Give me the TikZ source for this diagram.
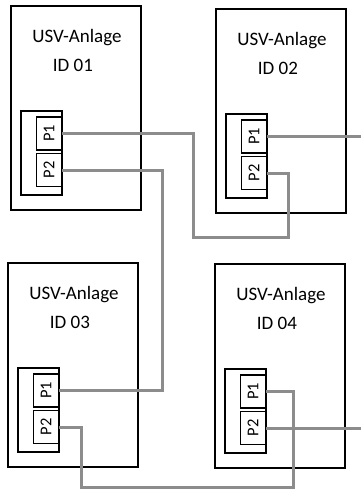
\documentclass[tikz,border=0pt]{standalone}
\usepackage{fontspec}
\setmainfont{Carlito}
\usetikzlibrary{calc}
\definecolor{wiregray}{RGB}{140,140,140}
\tikzset{
  outerbox/.style={draw=black, line width=1.8pt, minimum width=130pt, minimum height=204pt, inner sep=0pt},
  portblock/.style={draw=black, line width=1.8pt, minimum width=41pt, minimum height=84pt, inner sep=0pt},
  portbox/.style={draw=black, line width=1.8pt, rotate=90, minimum width=33pt, minimum height=25pt, inner sep=0pt, font=\fontsize{16.5}{18}\selectfont},
  title/.style={inner sep=0pt, font=\fontsize{19}{22}\selectfont},
  wire/.style={draw=wiregray, line width=3pt}
}
\newcommand\UsvUnit[4]{%
  \node[outerbox] (#1box) at (#2+65,#3+102) {};
  \node[title, anchor=base] (#1title) at (#2+66,#3+36.7) {USV-Anlage};
  \node[title, anchor=base west] (#1id) at (#2+41.7,#3+65.7) {ID #4};
  \node[portblock] (#1blk) at (#2+30.5,#3+147) {};
  \node[portbox] (#1p1) at (#2+38,#3+127.5) {P1};
  \node[portbox] (#1p2) at (#2+38,#3+164) {P2};
}
\begin{document}
\begin{tikzpicture}[x=1pt,y=-1pt]
\useasboundingbox (0,0) rectangle (361,491);
\coordinate (edge) at (361,0);
\UsvUnit{A}{11}{6}{01}
\UsvUnit{B}{216}{9}{02}
\UsvUnit{C}{8}{263}{03}
\UsvUnit{D}{215}{264}{04}
\draw[wire] (Ap1.south) -| (193,237) -| ($(Bp2.south)+(21,0)$) -- (Bp2.south);
\draw[wire] (Ap2.south) -| ($(Cp1.south)+(103,0)$) -- (Cp1.south);
\draw[wire] (Cp2.south) -| (81,487) -| ($(Dp1.south)+(27,0)$) -- (Dp1.south);
\draw[wire] (Bp1.south) -- (Bp1.south -| edge);
\draw[wire] (Dp2.south) -- (Dp2.south -| edge);
\end{tikzpicture}
\end{document}
